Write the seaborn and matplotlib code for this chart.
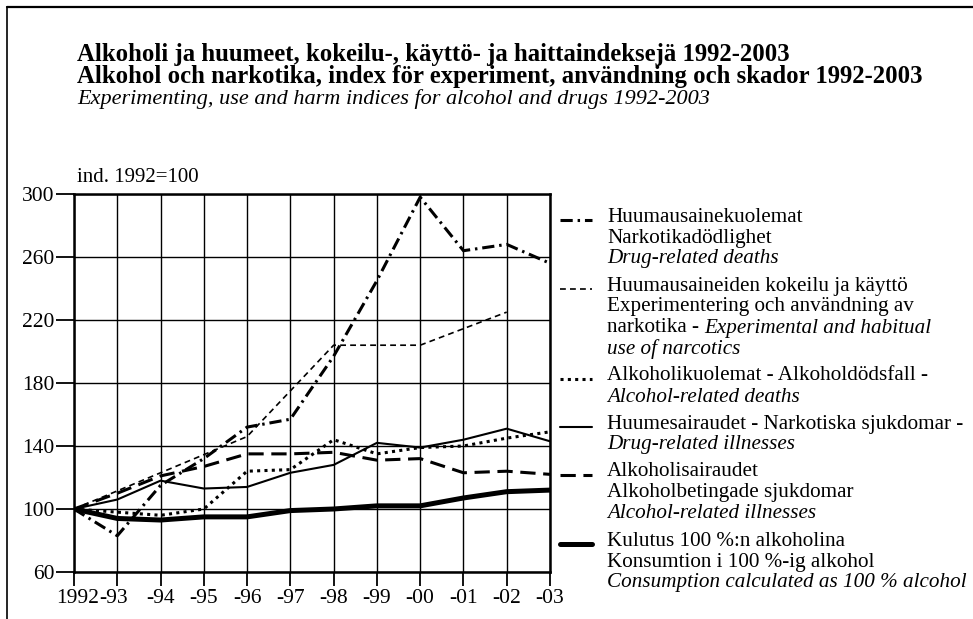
import matplotlib
matplotlib.use("Agg")
import matplotlib.pyplot as plt
import matplotlib.transforms as mtransforms
import seaborn as sns

years = list(range(1992, 2004))
drug_deaths = [100, 83, 115, 132, 152, 157, 197, 245, 298, 264, 268, 256]
exp_years = [1992, 1996, 1998, 2000, 2002]
exp_use = [100, 146, 204, 204, 225]
alc_deaths = [100, 98, 96, 100, 124, 125, 144, 135, 139, 140, 145, 149]
drug_ill = [100, 106, 118, 113, 114, 123, 128, 142, 139, 144, 151, 143]
alc_ill = [100, 110, 121, 127, 135, 135, 136, 131, 132, 123, 124, 122]
consumption = [100, 94, 93, 95, 95, 99, 100, 102, 102, 107, 111, 112]

xtick_labels = ["1992", "-93", "-94", "-95", "-96", "-97", "-98", "-99",
                "-00", "-01", "-02", "-03"]
yticks = [60, 100, 140, 180, 220, 260, 300]

title_lines = [
    ("Alkoholi ja huumeet, kokeilu-, käyttö- ja haittaindeksejä 1992-2003", "bold", "normal", 17.8),
    ("Alkohol och narkotika, index för experiment, användning och skador 1992-2003", "bold", "normal", 17.8),
    ("Experimenting, use and harm indices for alcohol and drugs 1992-2003", "normal", "italic", 16),
]

# legend entries: style of sample + lines made of (text, fontstyle) pieces
styles = {
    "deaths": dict(lw=2.2, ls=(0, (4, 1.6, 0.8, 1.6))),
    "exp": dict(lw=1.2, ls=(0, (3.5, 2.5))),
    "alcdeath": dict(lw=2.2, ls=(0, (1, 1.4))),
    "drugill": dict(lw=1.5, ls="-"),
    "alcill": dict(lw=2.2, ls=(0, (5, 2.5))),
    "cons": dict(lw=3.6, ls="-"),
}
legend_entries = [
    ("deaths", [[("Huumausainekuolemat", "normal")],
                [("Narkotikadödlighet", "normal")],
                [("Drug-related deaths", "italic")]]),
    ("exp", [[("Huumausaineiden kokeilu ja käyttö", "normal")],
             [("Experimentering och användning av", "normal")],
             [("narkotika - ", "normal"), ("Experimental and habitual", "italic")],
             [("use of narcotics", "italic")]]),
    ("alcdeath", [[("Alkoholikuolemat - Alkoholdödsfall -", "normal")],
                  [("Alcohol-related deaths", "italic")]]),
    ("drugill", [[("Huumesairaudet - Narkotiska sjukdomar -", "normal")],
                 [("Drug-related illnesses", "italic")]]),
    ("alcill", [[("Alkoholisairaudet", "normal")],
                [("Alkoholbetingade sjukdomar", "normal")],
                [("Alcohol-related illnesses", "italic")]]),
    ("cons", [[("Kulutus 100 %:n alkoholina", "normal")],
              [("Konsumtion i 100 %-ig alkohol", "normal")],
              [("Consumption calculated as 100 % alcohol", "italic")]]),
]

sns.set_theme(style="white")
plt.rcParams["font.family"] = ["Liberation Serif", "DejaVu Serif"]
plt.rcParams["text.color"] = "black"

W, H = 973, 619
fig = plt.figure(figsize=(W / 100, H / 100), dpi=100)
ax = fig.add_axes([74 / W, 1 - 572 / H, (550 - 74) / W, (572 - 194) / H])

sns.lineplot(x=years, y=drug_deaths, ax=ax, color="black", linewidth=styles["deaths"]["lw"],
             linestyle=styles["deaths"]["ls"], errorbar=None)
sns.lineplot(x=exp_years, y=exp_use, ax=ax, color="black", linewidth=styles["exp"]["lw"],
             linestyle=styles["exp"]["ls"], errorbar=None)
sns.lineplot(x=years, y=alc_deaths, ax=ax, color="black", linewidth=styles["alcdeath"]["lw"],
             linestyle=styles["alcdeath"]["ls"], errorbar=None)
sns.lineplot(x=years, y=drug_ill, ax=ax, color="black", linewidth=styles["drugill"]["lw"],
             linestyle=styles["drugill"]["ls"], errorbar=None)
sns.lineplot(x=years, y=alc_ill, ax=ax, color="black", linewidth=styles["alcill"]["lw"],
             linestyle=styles["alcill"]["ls"], errorbar=None)
sns.lineplot(x=years, y=consumption, ax=ax, color="black", linewidth=styles["cons"]["lw"],
             linestyle=styles["cons"]["ls"], errorbar=None)

ax.set_xlim(1992, 2003)
ax.set_ylim(60, 300)
ax.set_xticks(years)
ax.set_xticklabels(xtick_labels)
ax.set_yticks(yticks)
ax.set_xlabel("")
ax.set_ylabel("")
ax.grid(True, color="black", linewidth=1.0)
for s in ax.spines.values():
    s.set_visible(True)
    s.set_color("black")
    s.set_linewidth(1.8)
ax.tick_params(axis="y", length=13, width=1.3, pad=1, labelsize=15.5, colors="black", left=True)
ax.tick_params(axis="x", length=10, width=1.3, pad=2, labelsize=15.5, colors="black", bottom=True)

# "1992" and "-93" read as one label "1992-93"
lbls = ax.get_xticklabels()
lbls[0].set_transform(lbls[0].get_transform() + mtransforms.ScaledTranslation(4 / 100, 0, fig.dpi_scale_trans))
lbls[1].set_transform(lbls[1].get_transform() + mtransforms.ScaledTranslation(-4 / 100, 0, fig.dpi_scale_trans))

# overlay in pixel coordinates for frame, titles and legend
ov = fig.add_axes([0, 0, 1, 1])
ov.set_xlim(0, W)
ov.set_ylim(H, 0)
ov.axis("off")
ov.plot([7, 7], [7, H], color="black", lw=1.2)
ov.plot([7, W], [7, 7], color="black", lw=1.6)

for i, (txt, fw, fs, size) in enumerate(title_lines):
    ov.text(77, 55 + i * 22, txt, fontsize=size, fontweight=fw, fontstyle=fs, va="center", ha="left")

ov.text(77, 178, "ind. 1992=100", fontsize=15, va="center", ha="left")

fig.canvas.draw()
renderer = fig.canvas.get_renderer()

y = 217
step = 21
gap = 6
for key, lines in legend_entries:
    st = styles[key]
    ov.plot([560, 592], [y + 3, y + 3], color="black", lw=st["lw"], ls=st["ls"])
    for line in lines:
        x = 607
        for txt, fs in line:
            t = ov.text(x, y, txt, fontsize=15.2, fontstyle=fs, va="center", ha="left")
            x += t.get_window_extent(renderer).width
        y += step
    y += gap

fig.savefig("out.png", dpi=100)
